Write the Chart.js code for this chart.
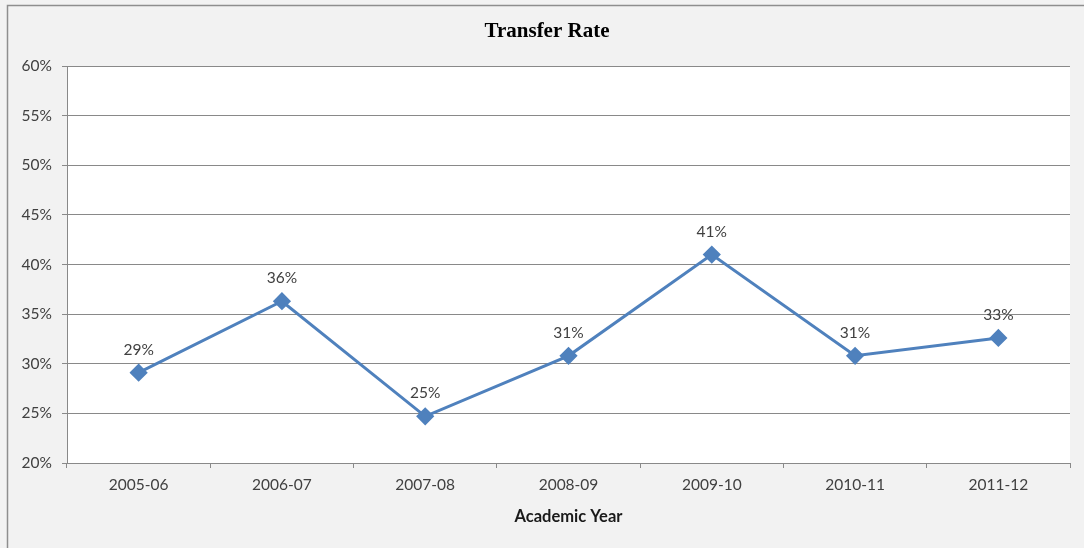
<!DOCTYPE html>
<html>
<head>
<meta charset="utf-8">
<script src="https://cdn.jsdelivr.net/npm/chart.js@4/dist/chart.umd.min.js"></script>
<style>
  html, body { margin: 0; padding: 0; background: #f2f2f2; }
  #wrap { width: 1084px; height: 548px; position: relative; }
</style>
</head>
<body>
<div id="wrap"><canvas id="transfer-chart"></canvas></div>
<script>
// chart data
const chartTitle = "Transfer Rate";
const years = ["2005-06", "2006-07", "2007-08", "2008-09", "2009-10", "2010-11", "2011-12"];
const transferRate = [29.1, 36.3, 24.7, 30.8, 41.0, 30.8, 32.6];
const yMin = 20;
const yMax = 60;
const yStep = 5;

const textColor = "#404040";
const gridColor = "#898989";
const lineColor = "#4f81bd";

// grey page + partial frame, white plot area, title centred on the frame
const backdrop = {
  id: "backdrop",
  beforeDraw(chart) {
    const { ctx, chartArea } = chart;
    ctx.save();
    ctx.fillStyle = "#f2f2f2";
    ctx.fillRect(0, 0, chart.width, chart.height);
    ctx.strokeStyle = "#8e8e8e";
    ctx.lineWidth = 1.5;
    ctx.beginPath();
    ctx.moveTo(7.5, chart.height);
    ctx.lineTo(7.5, 5.5);
    ctx.lineTo(chart.width, 5.5);
    ctx.stroke();
    ctx.fillStyle = "#ffffff";
    ctx.fillRect(chartArea.left, chartArea.top, chartArea.right - chartArea.left, chartArea.bottom - chartArea.top);

    ctx.font = "bold 21px 'Liberation Serif'";
    ctx.fillStyle = "#000000";
    ctx.textAlign = "center";
    ctx.textBaseline = "middle";
    ctx.fillText(chartTitle, 547, 32);
    ctx.restore();
  },
};

// value labels above each point
const pointLabels = {
  id: "pointLabels",
  afterDatasetsDraw(chart) {
    const { ctx } = chart;
    const meta = chart.getDatasetMeta(0);
    ctx.save();
    ctx.font = "15.5px Lato";
    ctx.fillStyle = textColor;
    ctx.textAlign = "center";
    ctx.textBaseline = "middle";
    meta.data.forEach((pt, i) => {
      ctx.fillText(Math.round(transferRate[i]) + "%", pt.x, pt.y - 23);
    });
    ctx.restore();
  },
};

const ctx = document.getElementById("transfer-chart").getContext("2d");

new Chart(ctx, {
  type: "line",
  data: {
    labels: years,
    datasets: [
      {
        label: chartTitle,
        data: transferRate,
        borderColor: lineColor,
        backgroundColor: lineColor,
        borderWidth: 3,
        pointStyle: "rectRot",
        pointRadius: 7,
        pointHoverRadius: 7,
        tension: 0,
      },
    ],
  },
  options: {
    responsive: true,
    maintainAspectRatio: false,
    animation: false,
    layout: { padding: { top: 66, right: 14, bottom: 0, left: 0 } },
    scales: {
      x: {
        offset: true,
        afterFit(scale) {
          scale.height = 85;
        },
        grid: {
          offset: true,
          drawOnChartArea: false,
          drawTicks: true,
          tickLength: 5,
          color: gridColor,
        },
        border: { color: gridColor },
        ticks: {
          color: textColor,
          font: { family: "Lato", size: 15.5 },
          padding: 8,
          maxRotation: 0,
        },
        title: {
          display: true,
          text: "Academic Year",
          color: "#1a1a1a",
          font: { family: "Lato", size: 16.5, weight: "bold" },
          padding: { top: 10, bottom: 21 },
        },
      },
      y: {
        min: yMin,
        max: yMax,
        afterFit(scale) {
          scale.width = 67;
        },
        grid: {
          color: gridColor,
          tickLength: 5,
        },
        border: { color: gridColor },
        ticks: {
          stepSize: yStep,
          color: textColor,
          font: { family: "Lato", size: 15.5 },
          padding: 10,
          callback: (v) => v + "%",
        },
      },
    },
    plugins: {
      legend: { display: false },
      tooltip: { enabled: false },
      title: { display: false },
    },
  },
  plugins: [backdrop, pointLabels],
});
</script>
</body>
</html>
